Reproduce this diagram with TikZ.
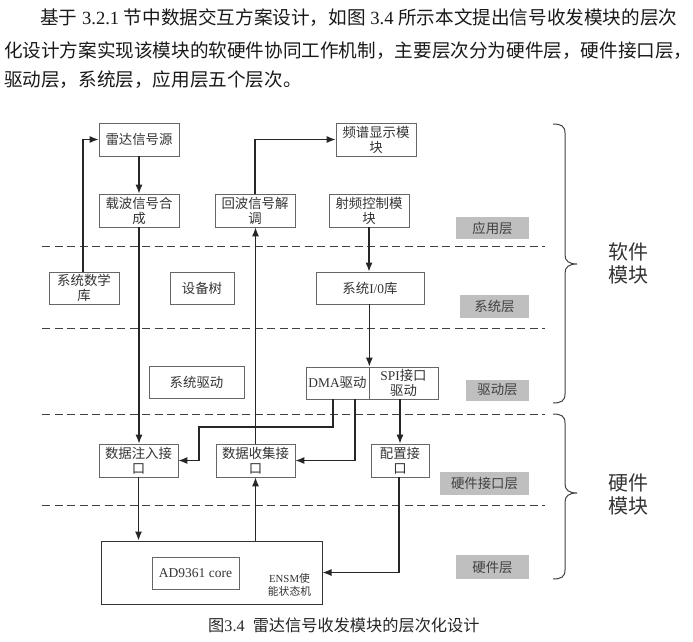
\documentclass[tikz,border=0pt]{standalone}
\usepackage{fontspec}
\setmainfont{Liberation Serif}
\newfontfamily\cjk{Noto Sans CJK SC}
\usetikzlibrary{arrows.meta}
\newcommand\zh[1]{{\cjk #1}}
\begin{document}
\begin{tikzpicture}[x=1pt,y=-1pt,
  box/.style={draw=black!60, line width=0.7pt, inner sep=0pt, align=center,
    font=\fontsize{13.4}{15}\selectfont\cjk, text=black!80},
  layer/.style={fill=black!25, inner sep=0pt, align=center,
    font=\fontsize{13.4}{15}\selectfont\cjk, text=black!75},
  conn/.style={line width=1.2pt, draw=black!85},
  arr/.style={conn, -{Latex[length=9pt,width=7pt]}},
  dline/.style={dash pattern=on 8pt off 4.5pt, line width=1pt, draw=black!75},
  brace/.style={line width=1pt, draw=black!75},
  head/.style={anchor=base west, inner sep=0pt, font=\fontsize{18.6}{20}\selectfont, text=black!90},
  side/.style={align=left, inner sep=0pt, font=\fontsize{20}{23}\selectfont\cjk, text=black!80}]
\useasboundingbox (0,0) rectangle (693,642);
% header text
\node[head] (h1) at (40,25) {\zh{基于} 3.2.1 \zh{节中数据交互方案设计，如图} 3.4 \zh{所示本文提出信号收发模块的层次}};
\node[head] (h2) at (4,57) {\zh{化设计方案实现该模块的软硬件协同工作机制，主要层次分为硬件层，硬件接口层，}};
\node[head] (h3) at (4,86) {\zh{驱动层，系统层，应用层五个层次。}};
% dashed separators
\draw[dline] (42,246) -- (545,246);
\draw[dline] (42,328) -- (545,328);
\draw[dline] (42,414) -- (545,414);
\draw[dline] (42,505) -- (545,505);
% boxes
\node[box, minimum width=80pt, minimum height=33pt] (src) at (139,139.5) {雷达信号源};
\node[box, minimum width=80pt, minimum height=33pt] (zaibo) at (139,210.5) {载波信号合\\成};
\node[box, minimum width=80pt, minimum height=33pt] (huibo) at (255,210.5) {回波信号解\\调};
\node[box, minimum width=80pt, minimum height=33pt] (pinpu) at (376,139.5) {频谱显示模\\块};
\node[box, minimum width=80pt, minimum height=33pt] (shepin) at (369,210.5) {射频控制模\\块};
\node[box, minimum width=70pt, minimum height=32pt] (shuxue) at (84,288) {系统数学\\库};
\node[box, minimum width=64pt, minimum height=32pt] (shebei) at (202,288) {设备树};
\node[box, minimum width=108pt, minimum height=32pt] (io) at (370,288) {系统{\rmfamily I/0}库};
\node[box, minimum width=95pt, minimum height=32pt] (xtqd) at (196.5,382) {系统驱动};
\node[box, minimum width=63pt, minimum height=32pt] (dma) at (337.5,383) {{\rmfamily DMA}驱动};
\node[box, minimum width=69pt, minimum height=32pt] (spi) at (403.5,383) {{\rmfamily SPI}接口\\驱动};
\node[box, minimum width=79pt, minimum height=33pt] (zhuru) at (138.5,460.5) {数据注入接\\口};
\node[box, minimum width=79pt, minimum height=33pt] (shouji) at (255.5,460.5) {数据收集接\\口};
\node[box, minimum width=58pt, minimum height=33pt] (peizhi) at (400,460.5) {配置接\\口};
\node[box, draw=black!80, line width=1pt, minimum width=221pt, minimum height=63pt] (big) at (211.5,572.5) {};
\node[box, minimum width=87pt, minimum height=32pt, font=\fontsize{13.5}{15}\selectfont\rmfamily] (core) at (195.5,573) {AD9361 core};
\node[align=center, inner sep=0pt, font=\fontsize{10.8}{13}\selectfont\cjk, text=black!80] (ensm) at (289.5,584.5) {{\rmfamily ENSM}使\\能状态机};
% layer labels
\node[layer, minimum width=73pt, minimum height=22pt] (l1) at (492.5,228) {应用层};
\node[layer, minimum width=69pt, minimum height=23pt] (l2) at (494.5,306.5) {系统层};
\node[layer, minimum width=63pt, minimum height=21pt] (l3) at (497.5,390) {驱动层};
\node[layer, minimum width=89pt, minimum height=23pt] (l4) at (484.5,483.5) {硬件接口层};
\node[layer, minimum width=73pt, minimum height=24pt] (l5) at (492.5,567) {硬件层};
% braces
\draw[brace] (553,124) .. controls (561,124) and (565,126) .. (565,133) -- (565,255)
  .. controls (565,261) and (569,264) .. (577,264) .. controls (569,264) and (565,267) .. (565,273)
  -- (565,394) .. controls (565,401) and (561,403) .. (553,403);
\draw[brace] (553,414) .. controls (561,414) and (565,416) .. (565,423) -- (565,484)
  .. controls (565,490) and (569,493) .. (577,493) .. controls (569,493) and (565,496) .. (565,502)
  -- (565,570) .. controls (565,577) and (561,579) .. (553,579);
\node[side] (soft) at (628,263.5) {软件\\模块};
\node[side] (hard) at (628,494) {硬件\\模块};
% caption
\node[anchor=base west, inner sep=0pt, font=\fontsize{16.2}{18}\selectfont, text=black!85] (cap) at (208,631) {\zh{图}3.4\ \ \zh{雷达信号收发模块的层次化设计}};
% connectors
\coordinate (b1) at (83,140);
\draw[arr] (shuxue.north -| b1) |- (src.west);
\draw[arr] (src.south) -- (zaibo.north);
\draw[arr] (huibo.north) |- (pinpu.west);
\draw[arr] (shepin.south) -- (shepin.south |- io.north);
\draw[arr] (dma.north east |- io.south) -- (dma.north east);
\draw[arr] (zaibo.south) -- (zaibo.south |- zhuru.north);
\draw[arr] (shouji.north) -- (shouji.north |- huibo.south);
\coordinate (b2) at (199,427);
\draw[arr] ([xshift=-4.5pt]dma.south) |- (b2) |- (zhuru.east);
\draw[arr] ([xshift=17.5pt]dma.south) |- (shouji.east);
\draw[arr] (peizhi.north |- spi.south) -- (peizhi.north);
\draw[arr] (zhuru.south) -- (zhuru.south |- big.north);
\draw[arr] (shouji.south |- big.north) -- (shouji.south);
\draw[arr] ([xshift=-1pt]peizhi.south) |- (big.east);
\end{tikzpicture}
\end{document}
